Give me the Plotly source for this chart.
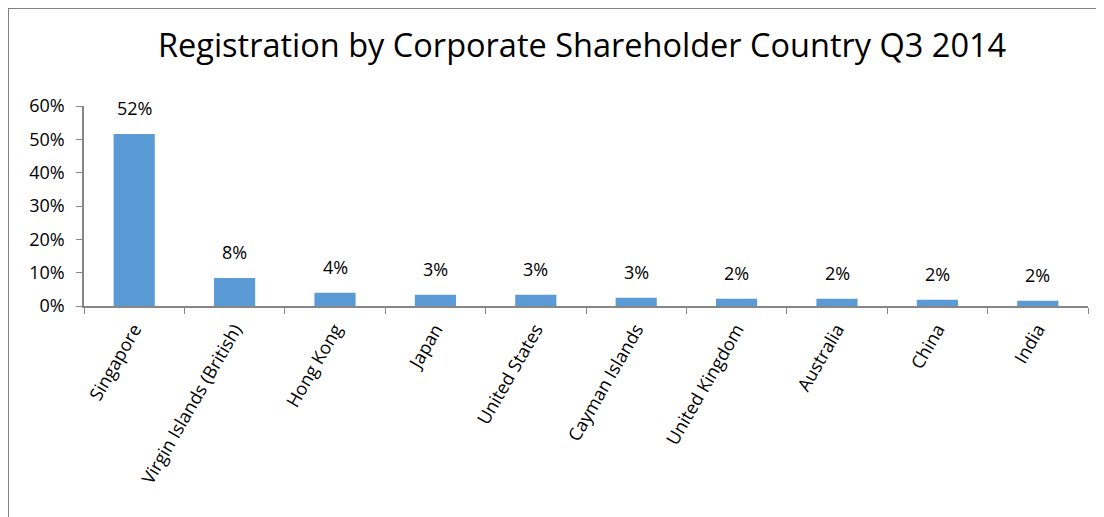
import plotly.graph_objects as go

countries = ["Singapore", "Virgin Islands (British)", "Hong Kong", "Japan", "United States",
             "Cayman Islands", "United Kingdom", "Australia", "China", "India"]
shares = [0.516, 0.084, 0.040, 0.034, 0.034, 0.025, 0.022, 0.022, 0.019, 0.016]
labels = ["52%", "8%", "4%", "3%", "3%", "3%", "2%", "2%", "2%", "2%"]
y_ticks = [0, 0.1, 0.2, 0.3, 0.4, 0.5, 0.6]

FONT = "Open Sans"

fig = go.Figure()
fig.add_trace(go.Bar(
    x=countries, y=shares,
    marker=dict(color="#5B9BD5", line=dict(width=0)),
    width=0.41,
))

for c, v, t in zip(countries, shares, labels):
    fig.add_annotation(x=c, y=v, text=t, showarrow=False, yanchor="bottom",
                       yshift=12, font=dict(family=FONT, size=18, color="#000000"))

fig.update_layout(
    width=1104, height=517,
    margin=dict(l=76, r=24, t=98, b=219),
    paper_bgcolor="white", plot_bgcolor="white",
    showlegend=False,
    title=dict(text="Registration by Corporate Shareholder Country Q3 2014",
               x=0.52, xanchor="center", y=0.928, yanchor="middle",
               font=dict(family=FONT, size=32.5, color="#000000")),
    font=dict(family=FONT, size=18, color="#000000"),
)
fig.update_xaxes(
    type="category", showline=True, linecolor="#868686", linewidth=1.5,
    ticks="outside", tickson="boundaries", ticklen=6, tickcolor="#868686",
    tickangle=-60, showgrid=False, ticklabelstandoff=4,
    tickfont=dict(family=FONT, size=18, color="#000000"),
)
fig.update_yaxes(
    range=[0, 0.6], tickvals=y_ticks, tickformat=".0%",
    showline=True, linecolor="#868686", linewidth=1.5,
    ticks="outside", ticklen=6, tickcolor="#868686",
    showgrid=False, zeroline=False, ticklabelstandoff=8,
    tickfont=dict(family=FONT, size=18, color="#000000"),
)

# chart frame (left and top edges visible)
fig.add_shape(type="line", xref="paper", yref="paper", x0=-0.0757, x1=-0.0757, y0=1.49, y1=-1.2,
              line=dict(color="#808080", width=2))
fig.add_shape(type="line", xref="paper", yref="paper", x0=-0.0757, x1=1.1, y0=1.49, y1=1.49,
              line=dict(color="#808080", width=2))

fig.write_html("out.html")
